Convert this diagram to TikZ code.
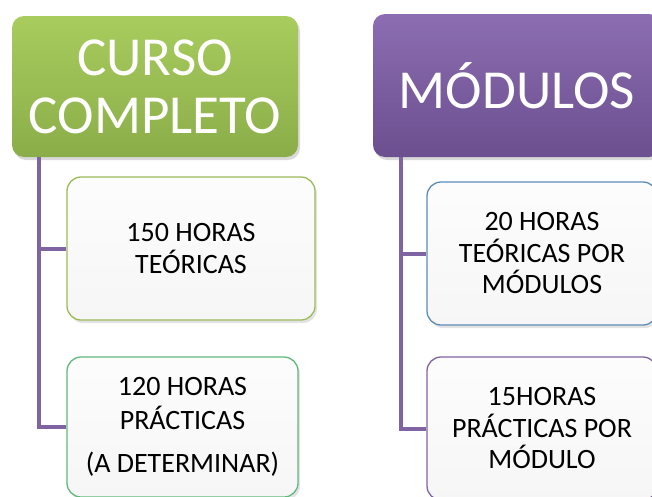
\documentclass[tikz,border=0pt]{standalone}
\usepackage{fontspec}
\setmainfont{Carlito}
\usetikzlibrary{shadows}
\definecolor{ogreen}{HTML}{9BBB59}
\definecolor{ogreenT}{HTML}{A9CC5E}
\definecolor{ogreenB}{HTML}{8AAD49}
\definecolor{opurple}{HTML}{8064A2}
\definecolor{opurpleT}{HTML}{8C6DB2}
\definecolor{opurpleB}{HTML}{6B4F8E}
\definecolor{bgreen}{HTML}{5EB97B}
\definecolor{bblue}{HTML}{5B8DB8}
\definecolor{conncol}{HTML}{8064A2}
\tikzset{
  titlebox/.style={rounded corners=12pt, draw=none, text=white,
    align=center, inner sep=0pt,
    font=\fontsize{55}{58}\selectfont,
    drop shadow={opacity=0.3, shadow xshift=2pt, shadow yshift=-3pt}},
  childbox/.style={rounded corners=14pt, line width=1.3pt, text=black,
    top color=white!98!gray, bottom color=white!93!gray,
    align=center, inner sep=0pt,
    drop shadow={opacity=0.22, shadow xshift=2pt, shadow yshift=-3pt}},
  childfont/.style={font=\fontsize{28}{31.5}\selectfont},
  conn/.style={draw=conncol, line width=4pt}
}
\begin{document}
\begin{tikzpicture}[x=1pt,y=-1pt]
\useasboundingbox (0,0) rectangle (652,496);
\clip (0,0) rectangle (652,496);
\node[titlebox, top color=ogreenT, bottom color=ogreenB,
  minimum width=286pt, minimum height=141pt] (cc) at (155,86.5) {CURSO\\COMPLETO};
\node[titlebox, top color=opurpleT, bottom color=opurpleB,
  minimum width=288pt, minimum height=143pt] (mod) at (517,85.5) {MÓDULOS};
\node[childbox, childfont, draw=ogreen, minimum width=248pt, minimum height=143pt]
  (b1) at (191,248.5) {150 HORAS\\TEÓRICAS};
\node[childbox, draw=bgreen, minimum width=231pt, minimum height=140pt,
  font=\fontsize{28}{34}\selectfont]
  (b2) at (182.5,427) {120 HORAS\\PRÁCTICAS\\[9pt](A DETERMINAR)};
\node[childbox, childfont, draw=bblue, minimum width=230pt, minimum height=143pt]
  (b3) at (542,253.5) {20 HORAS\\TEÓRICAS POR\\MÓDULOS};
\node[childbox, childfont, draw=opurple, minimum width=230pt, minimum height=143pt]
  (b4) at (542,428.5) {15HORAS\\PRÁCTICAS POR\\MÓDULO};
\draw[conn] ([xshift=27pt]cc.south west) |- (b2.west);
\draw[conn] ([xshift=27pt]cc.south west) |- (b1.west);
\draw[conn] ([xshift=28pt]mod.south west) |- (b4.west);
\draw[conn] ([xshift=28pt]mod.south west) |- (b3.west);
\end{tikzpicture}
\end{document}
